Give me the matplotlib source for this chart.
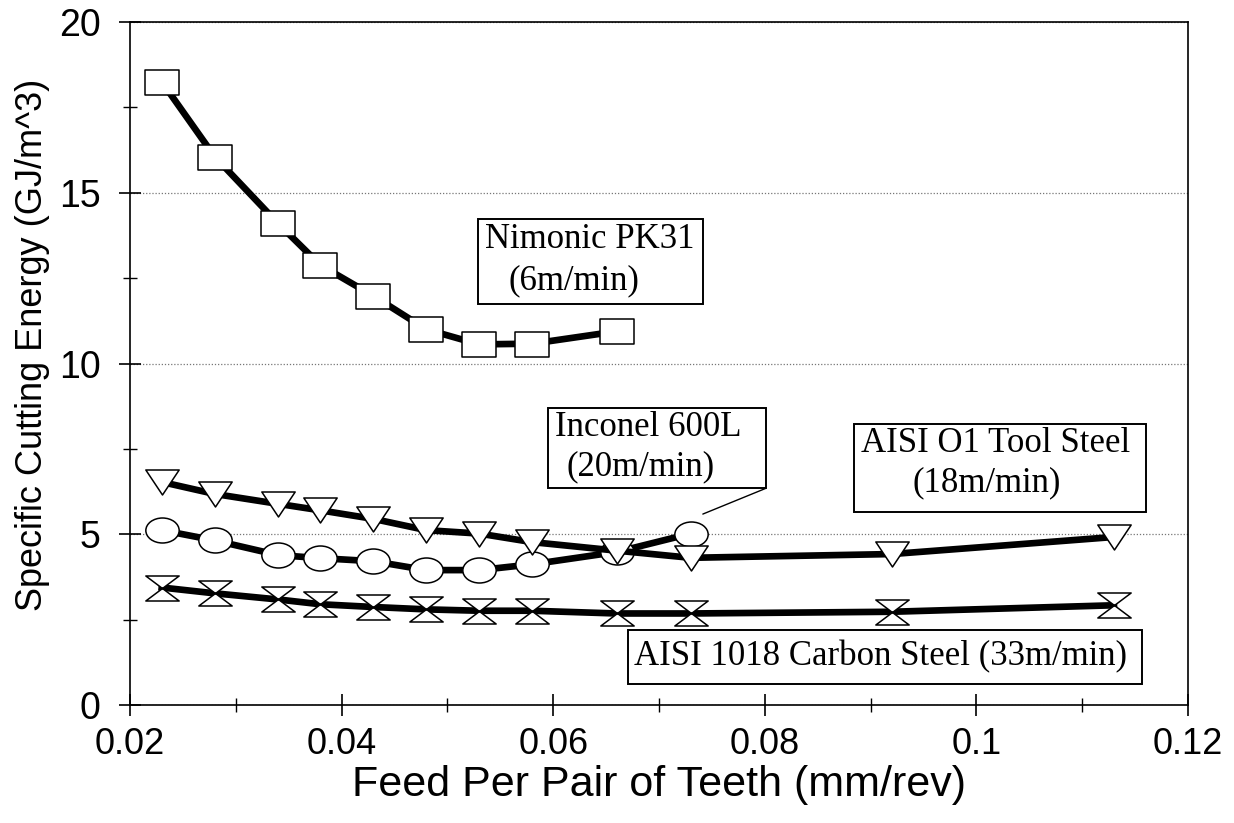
import matplotlib
matplotlib.use('Agg')
import matplotlib.pyplot as plt
import numpy as np
from matplotlib.path import Path
from matplotlib.patches import Rectangle
from matplotlib.ticker import MultipleLocator

# feed values (mm/rev)
feed_short = [0.023, 0.028, 0.034, 0.038, 0.043, 0.048, 0.053, 0.058, 0.066]
feed_mid = [0.023, 0.028, 0.034, 0.038, 0.043, 0.048, 0.053, 0.058, 0.066, 0.073]
feed_long = [0.023, 0.028, 0.034, 0.038, 0.043, 0.048, 0.053, 0.058, 0.066, 0.073, 0.092, 0.113]

# specific cutting energy (GJ/m^3)
nimonic = [18.25, 16.06, 14.1, 12.88, 11.98, 11.0, 10.56, 10.58, 10.94]
inconel = [5.12, 4.82, 4.39, 4.30, 4.21, 3.95, 3.95, 4.12, 4.48, 5.02]
aisi_o1 = [6.53, 6.18, 5.89, 5.70, 5.45, 5.12, 5.02, 4.77, 4.52, 4.31, 4.42, 4.92]
aisi_1018 = [3.44, 3.27, 3.09, 2.95, 2.87, 2.80, 2.76, 2.76, 2.68, 2.68, 2.73, 2.92]

# markers are squashed (wider than tall) in the original
asp = 0.75
sq = Path([(-0.5, -0.5*asp), (0.5, -0.5*asp), (0.5, 0.5*asp), (-0.5, 0.5*asp), (-0.5, -0.5*asp)],
          [Path.MOVETO, Path.LINETO, Path.LINETO, Path.LINETO, Path.CLOSEPOLY])
uc = Path.unit_circle()
ell = Path(uc.vertices * np.array([1.0, asp]), uc.codes)
tri = Path([(-0.5, 0.5*asp), (0.5, 0.5*asp), (0, -0.5*asp), (-0.5, 0.5*asp)],
           [Path.MOVETO, Path.LINETO, Path.LINETO, Path.CLOSEPOLY])
hg = Path([(-0.5, 0.5*asp), (0.5, 0.5*asp), (0, 0), (0.5, -0.5*asp), (-0.5, -0.5*asp), (0, 0), (-0.5, 0.5*asp)],
          [Path.MOVETO, Path.LINETO, Path.LINETO, Path.LINETO, Path.LINETO, Path.LINETO, Path.CLOSEPOLY])

fig = plt.figure(figsize=(12.34, 8.23), dpi=100)
ax = fig.add_axes([130/1234, 1-705/823, 1058/1234, 683/823])

kw = dict(color='black', lw=4.8, markersize=24, markerfacecolor='white',
          markeredgecolor='black', markeredgewidth=1.1)
ax.plot(feed_short, nimonic, marker=sq, **kw)
ax.plot(feed_mid, inconel, marker=ell, **kw)
ax.plot(feed_long, aisi_o1, marker=tri, **kw)
ax.plot(feed_long, aisi_1018, marker=hg, **kw)

ax.set_xlim(0.02, 0.12)
ax.set_ylim(0, 20)
ax.xaxis.set_minor_locator(MultipleLocator(0.01))
ax.yaxis.set_major_locator(MultipleLocator(5))
ax.yaxis.set_minor_locator(MultipleLocator(2.5))
ax.set_xticks([0.02, 0.04, 0.06, 0.08, 0.1, 0.12])
ax.set_xticklabels(['0.02', '0.04', '0.06', '0.08', '0.1', '0.12'])
ax.grid(axis='y', which='major', linestyle=(0, (1, 1.5)), color='#777777', lw=0.9)
ax.set_axisbelow(True)

ax.tick_params(which='major', direction='inout', length=16, width=1.2)
ax.tick_params(which='minor', direction='inout', length=10, width=1.0)
ax.tick_params(axis='x', labelsize=26, pad=8)
ax.tick_params(axis='y', labelsize=27, pad=13)
for lab in ax.get_xticklabels() + ax.get_yticklabels():
    lab.set_family('Liberation Sans')
for s in ax.spines.values():
    s.set_linewidth(1.2)

ax.set_xlabel('Feed Per Pair of Teeth (mm/rev)', fontsize=31, family='Liberation Sans')
ax.set_ylabel('Specific Cutting Energy (GJ/m^3)', fontsize=26, family='Liberation Sans')
ax.xaxis.set_label_coords(0.5, -0.088)
ax.yaxis.set_label_coords(-0.076, 0.527)


def px(x, y):
    return ((x - 130) / 1058, (705 - y) / 683)


def box(x0, y0, x1, y1):
    a = px(x0, y1)
    b = px(x1, y0)
    ax.add_patch(Rectangle(a, b[0]-a[0], b[1]-a[1], transform=ax.transAxes,
                           facecolor='white', edgecolor='black', lw=1.4, zorder=5))


def txt(x, y, s):
    ax.text(*px(x, y), s, transform=ax.transAxes, fontsize=25, family='Liberation Serif',
            ha='left', va='center', zorder=6)


box(478, 219, 703, 304)
txt(485, 240, 'Nimonic PK31')
txt(508, 281, '(6m/min)')

box(548, 408, 766, 488)
txt(555, 428, 'Inconel 600L')
txt(566, 467, '(20m/min)')
ax.annotate('', xy=(0.0739, 5.56), xytext=(0.0803, 6.37),
            arrowprops=dict(arrowstyle='-', lw=1.0, color='black'))

box(854, 424, 1146, 512)
txt(861, 444, 'AISI O1 Tool Steel')
txt(912, 483, '(18m/min)')

box(628, 630, 1142, 684)
txt(634, 657, 'AISI 1018 Carbon Steel (33m/min)')

fig.savefig('out.png', dpi=100)
